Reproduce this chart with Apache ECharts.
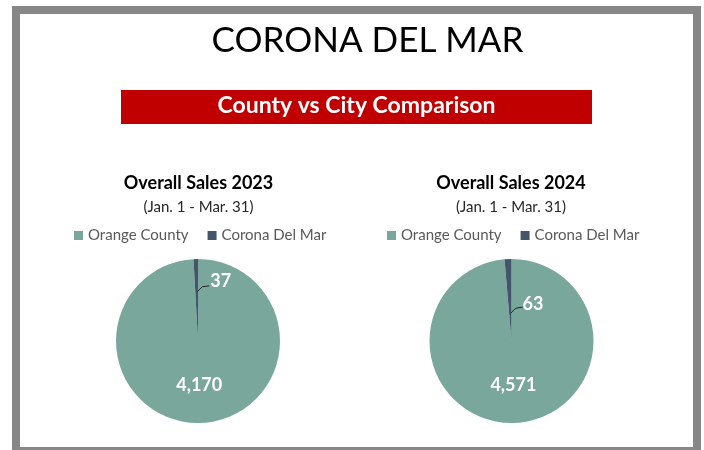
<!DOCTYPE html>
<html>
<head>
<meta charset="utf-8">
<script src="https://cdn.jsdelivr.net/npm/echarts@6/dist/echarts.min.js"></script>
<style>
html,body{margin:0;padding:0;background:#fff;}
#chart{width:704px;height:450px;}
</style>
</head>
<body>
<div id="chart"></div>
<script>
// ---- data ----
var mainTitle = 'CORONA DEL MAR';
var bannerText = 'County vs City Comparison';
var categories = ['Orange County', 'Corona Del Mar'];
var pieTitles = ['Overall Sales 2023', 'Overall Sales 2024'];
var pieSubtitle = '(Jan. 1 - Mar. 31)';
var sales2023 = [4170, 37];
var sales2024 = [4571, 63];

// ---- style ----
var COLORS = ['#7AA79C', '#44546A'];
var FONT = 'Lato';
var CX = [198, 511.5], CY = 341, R = 82;
var LEADER_R = [0.6, 0.34];   // where the leader line starts, as a share of the radius
var LABEL_DY = [-11, -9];      // label vertical offset from leader start

var chart = echarts.init(document.getElementById('chart'), null, {renderer: 'canvas'});

function fmt(v) { return v.toLocaleString('en-US'); }

function buildPie(values, idx) {
  return {
    type: 'pie',
    center: [CX[idx], CY],
    radius: R,
    startAngle: 90,
    clockwise: true,
    avoidLabelOverlap: false,
    silent: true,
    legendHoverLink: false,
    emphasis: {disabled: true},
    itemStyle: {borderWidth: 0},
    labelLine: {show: false},
    data: values.map(function (v, i) {
      return {
        name: categories[i],
        value: v,
        itemStyle: {color: COLORS[i]},
        label: {
          show: true,
          position: i === 0 ? 'inside' : 'outside',
          formatter: function (p) { return fmt(p.value); },
          color: '#fff',
          fontFamily: FONT,
          fontWeight: 'bold',
          fontSize: 18
        }
      };
    }),
    labelLayout: function (p) {
      if (p.dataIndex !== 1 || !p.labelLinePoints) return {};
      var edge = p.labelLinePoints[0];
      var h = p.rect.height;
      var sx = edge[0] + 0.5, sy = edge[1] + h * (1 - LEADER_R[p.seriesIndex]);
      return {
        x: sx + 14,
        y: sy + LABEL_DY[p.seriesIndex],
        align: 'left',
        verticalAlign: 'middle'
      };
    }
  };
}

var frameAndBanner = [
  {type: 'rect', shape: {x: 16, y: 10, width: 681, height: 441}, style: {fill: 'none', stroke: '#878787', lineWidth: 8}, silent: true},
  {type: 'rect', shape: {x: 121, y: 90, width: 471, height: 34}, style: {fill: '#C00000'}, silent: true}
];

var option = {
  backgroundColor: '#fff',
  animation: false,
  graphic: frameAndBanner,
  title: [
    {text: mainTitle, left: 367.5, top: 41, textAlign: 'center', textVerticalAlign: 'middle', padding: 0,
     textStyle: {fontFamily: FONT, fontSize: 35, fontWeight: 'normal', color: '#000'}},
    {text: bannerText, left: 356.5, top: 106, textAlign: 'center', textVerticalAlign: 'middle', padding: 0,
     textStyle: {fontFamily: FONT, fontSize: 23, fontWeight: 'bold', color: '#fff'}},
    {text: pieTitles[0], left: 198.5, top: 183, textAlign: 'center', textVerticalAlign: 'middle', padding: 0,
     textStyle: {fontFamily: FONT, fontSize: 18, fontWeight: 'bold', color: '#000'}},
    {text: pieSubtitle, left: 198.5, top: 207, textAlign: 'center', textVerticalAlign: 'middle', padding: 0,
     textStyle: {fontFamily: FONT, fontSize: 15, fontWeight: 'normal', color: '#262626'}},
    {text: pieTitles[1], left: 511, top: 183, textAlign: 'center', textVerticalAlign: 'middle', padding: 0,
     textStyle: {fontFamily: FONT, fontSize: 18, fontWeight: 'bold', color: '#000'}},
    {text: pieSubtitle, left: 511, top: 207, textAlign: 'center', textVerticalAlign: 'middle', padding: 0,
     textStyle: {fontFamily: FONT, fontSize: 15, fontWeight: 'normal', color: '#262626'}}
  ],
  legend: [
    {data: categories, left: 74, top: 228, itemWidth: 9, itemHeight: 9, itemGap: 19, padding: 0, icon: 'rect',
     selectedMode: false, textStyle: {fontFamily: FONT, fontSize: 15, color: '#595959'}},
    {data: categories, left: 387, top: 228, itemWidth: 9, itemHeight: 9, itemGap: 19, padding: 0, icon: 'rect',
     selectedMode: false, textStyle: {fontFamily: FONT, fontSize: 15, color: '#595959'}}
  ],
  series: [buildPie(sales2023, 0), buildPie(sales2024, 1)]
};

chart.setOption(option);

// leader lines for the thin slices, derived from the library's own pie layout
(function addLeaders() {
  var model = chart.getModel();
  var leaders = [];
  for (var si = 0; si < 2; si++) {
    var L = model.getSeriesByIndex(si).getData().getItemLayout(1);
    if (!L) continue;
    var mid = (L.startAngle + L.endAngle) / 2;
    var sx = L.cx + Math.cos(mid) * L.r * LEADER_R[si] + 0.5;
    var sy = L.cy + Math.sin(mid) * L.r * LEADER_R[si];
    leaders.push({
      type: 'polyline', silent: true, z: 10,
      shape: {points: [[sx, sy], [sx + 5, sy - 5], [sx + 12, sy - 6]]},
      style: {stroke: '#262626', lineWidth: 1, fill: null}
    });
  }
  chart.setOption({graphic: frameAndBanner.concat(leaders)});
})();
</script>
</body>
</html>
